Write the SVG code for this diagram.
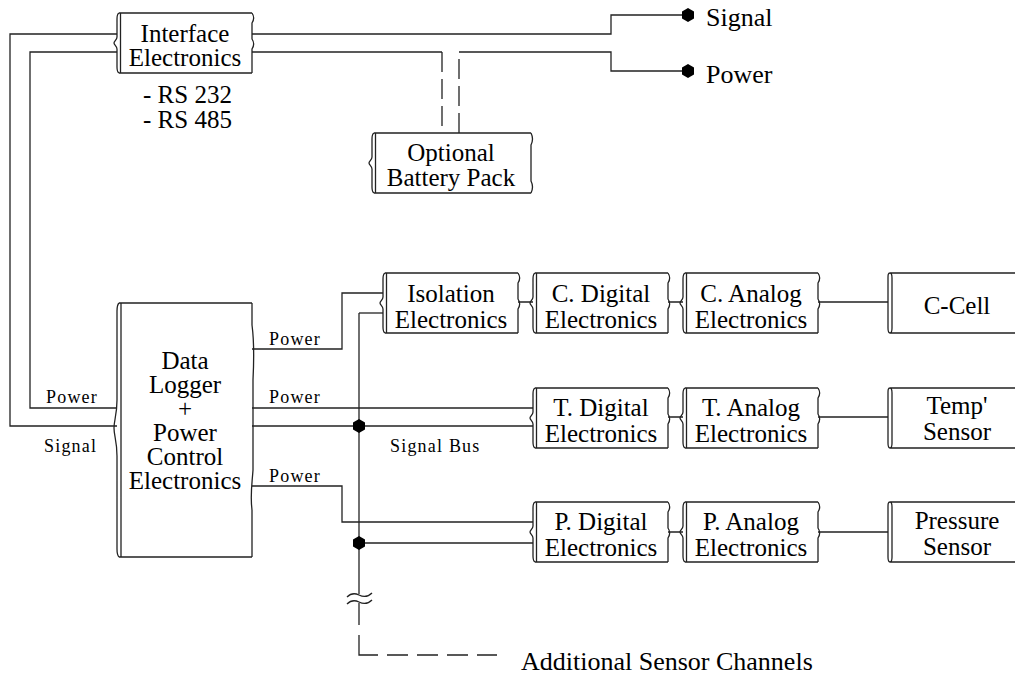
<svg xmlns="http://www.w3.org/2000/svg" xmlns:xlink="http://www.w3.org/1999/xlink" width="1015" height="675" viewBox="0 0 1015 675">
<style>
.ln{fill:none;stroke:#222;stroke-width:1.3}
.fr{fill:none;stroke:#222;stroke-width:1.3}
.ds{fill:none;stroke:#222;stroke-width:1.3;stroke-dasharray:20 7}
.t{font-family:'Liberation Serif','DejaVu Serif',serif;font-size:25px;fill:#000}
.b{font-size:26px}
.c{text-anchor:middle}
.s{font-family:'Liberation Serif','DejaVu Serif',serif;font-size:18px;letter-spacing:1.2px;fill:#000}
.dot{fill:#000}
</style>
<defs>
<g id="box135">
<path class="fr" d="M2,0 H135 M2,60 H135 M135,0 C137,3 137,7 135,10 V26 C137,29 137,33 135,36 V60 M2,0 C0,1 0,3 0,6 V24 C0,27 -3,28 -3,30 C-3,32 0,33 0,36 V54 C0,57 0,59 2,60 M3.5,0 V60"/>
</g>
<g id="sens">
<path class="fr" d="M2,0 H140 M2,60 H140 M2,0 C0,0 0,2 0,5 V55 C0,58 0,60 2,60 M2,0 C4,0 4,2 4,5 V55 C4,58 4,60 2,60"/>
</g>
<polygon id="hex" points="0,-7 6,-3.5 6,3.5 0,7 -6,3.5 -6,-3.5"/>
</defs>
<rect width="1015" height="675" fill="#fff"/>
<g id="connectors">
<path class="ln" d="M117,34 H10 V426 H117"/>
<path class="ln" d="M117,52 H30 V408 H117"/>
<path class="ln" d="M252,34 H611 V15 H683"/>
<path class="ln" d="M252,52 H442"/>
<path class="ds" d="M442,52 V133"/>
<path class="ds" d="M459,133 V52"/>
<path class="ln" d="M459,52 H611 V71 H683"/>
<path class="ln" d="M252,349 H342 V293 H383"/>
<path class="ln" d="M359,313 H383"/>
<path class="ln" d="M359,313 V594"/>
<path class="ln" d="M252,408 H533"/>
<path class="ln" d="M252,426 H533"/>
<path class="ln" d="M252,486 H342 V522 H533"/>
<path class="ln" d="M359,543 H533"/>
<path class="ln" d="M518,302 H533 M668,302 H683 M818,302 H888"/>
<path class="ln" d="M668,417 H683 M818,417 H888"/>
<path class="ln" d="M668,532 H683 M818,532 H888"/>
<path class="ln" d="M347,597 C351,593 355,593 359,595 C363,597 367,598 372,593"/>
<path class="ln" d="M347,604 C351,600 355,600 359,602 C363,604 367,605 372,600"/>
<path class="ln" d="M359,603 V625 M359,635 V655 H378 M387,655 H408 M417,655 H438 M447,655 H468 M477,655 H497"/>
<use xlink:href="#hex" href="#hex" class="dot" x="359" y="426"/>
<use xlink:href="#hex" href="#hex" class="dot" x="359" y="543"/>
<use xlink:href="#hex" href="#hex" class="dot" x="688" y="15"/>
<use xlink:href="#hex" href="#hex" class="dot" x="688" y="71"/>
</g>
<g id="interface">
<use xlink:href="#box135" href="#box135" x="117" y="13"/>
<text class="t c" x="185" y="42">Interface</text>
<text class="t c" x="185" y="66">Electronics</text>
</g>
<g id="rs-labels">
<text class="t" x="143" y="103">- RS 232</text>
<text class="t" x="143" y="128">- RS 485</text>
</g>
<g id="battery">
<path class="fr" d="M374,133 H531 M374,193 H531 M531,133 C533,137 533,141 531,145 V181 C533,185 533,189 531,193 M374,133 C372,134 372,136 372,139 V157 C372,160 369,161 369,163 C369,165 372,166 372,169 V187 C372,190 372,192 374,193 M375.5,133 V193"/>
<text class="t c" x="451" y="161">Optional</text>
<text class="t c" x="451" y="186">Battery Pack</text>
</g>
<g id="signal-out">
<text class="t b" x="706" y="26">Signal</text>
</g>
<g id="power-out">
<text class="t b" x="706" y="83">Power</text>
</g>
<g id="datalogger">
<path class="fr" d="M119,303 H252 M119,557 H252 M252,303 V325 C254,340 254,360 253,380 V470 C252,485 250,495 252,510 V557 M119,303 C117,305 117,307 117,311 V400 C117,415 114,420 114,428 C114,436 117,441 117,456 V549 C117,553 117,555 119,557 M121,303 V557"/>
<text class="t c" x="185" y="369">Data</text>
<text class="t c" x="185" y="393">Logger</text>
<text class="t c" x="185" y="417">+</text>
<text class="t c" x="185" y="441">Power</text>
<text class="t c" x="185" y="465">Control</text>
<text class="t c" x="185" y="489">Electronics</text>
</g>
<g id="wire-labels">
<text class="s" x="46" y="403">Power</text>
<text class="s" x="44" y="452">Signal</text>
<text class="s" x="269" y="345">Power</text>
<text class="s" x="269" y="403">Power</text>
<text class="s" x="269" y="482">Power</text>
<text class="s" x="390" y="452">Signal Bus</text>
<text class="t b" x="521" y="670">Additional Sensor Channels</text>
</g>
<g id="isolation">
<use xlink:href="#box135" href="#box135" x="383" y="273"/>
<text class="t c" x="451" y="302">Isolation</text>
<text class="t c" x="451" y="328">Electronics</text>
</g>
<g id="c-digital">
<use xlink:href="#box135" href="#box135" x="533" y="273"/>
<text class="t c" x="601" y="302">C. Digital</text>
<text class="t c" x="601" y="328">Electronics</text>
</g>
<g id="c-analog">
<use xlink:href="#box135" href="#box135" x="683" y="273"/>
<text class="t c" x="751" y="302">C. Analog</text>
<text class="t c" x="751" y="328">Electronics</text>
</g>
<g id="c-cell">
<use xlink:href="#sens" href="#sens" x="888" y="273"/>
<text class="t c" x="957" y="314">C-Cell</text>
</g>
<g id="t-digital">
<use xlink:href="#box135" href="#box135" x="533" y="388"/>
<text class="t c" x="601" y="416">T. Digital</text>
<text class="t c" x="601" y="442">Electronics</text>
</g>
<g id="t-analog">
<use xlink:href="#box135" href="#box135" x="683" y="388"/>
<text class="t c" x="751" y="416">T. Analog</text>
<text class="t c" x="751" y="442">Electronics</text>
</g>
<g id="temp-sensor">
<use xlink:href="#sens" href="#sens" x="888" y="388"/>
<text class="t c" x="957" y="414">Temp'</text>
<text class="t c" x="957" y="440">Sensor</text>
</g>
<g id="p-digital">
<use xlink:href="#box135" href="#box135" x="533" y="502"/>
<text class="t c" x="601" y="530">P. Digital</text>
<text class="t c" x="601" y="556">Electronics</text>
</g>
<g id="p-analog">
<use xlink:href="#box135" href="#box135" x="683" y="502"/>
<text class="t c" x="751" y="530">P. Analog</text>
<text class="t c" x="751" y="556">Electronics</text>
</g>
<g id="pressure-sensor">
<use xlink:href="#sens" href="#sens" x="888" y="502"/>
<text class="t c" x="957" y="529">Pressure</text>
<text class="t c" x="957" y="555">Sensor</text>
</g>
</svg>
